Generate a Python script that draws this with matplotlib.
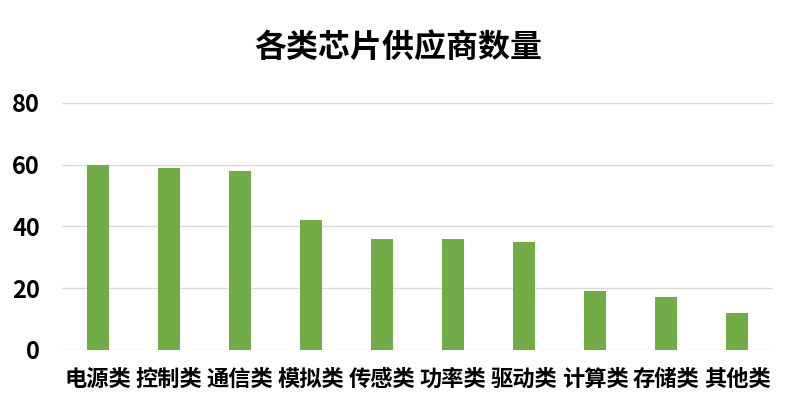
import matplotlib.pyplot as plt

plt.rcParams['font.family'] = ['Noto Sans CJK SC', 'DejaVu Sans']

# 数据
categories = ['电源类', '控制类', '通信类', '模拟类', '传感类', '功率类', '驱动类', '计算类', '存储类', '其他类']
counts = [60, 59, 58, 42, 36, 36, 35, 19, 17, 12]
yticks = [0, 20, 40, 60, 80]

fig = plt.figure(figsize=(8, 4.18), dpi=100)
ax = fig.add_axes([0.0775, 0.1627, 0.8885, 0.591])

ax.bar(range(len(categories)), counts, width=0.31, color='#70AD47', zorder=3)

ax.set_xlim(-0.5, len(categories) - 0.5)
ax.set_ylim(0, 80)
ax.set_yticks(yticks)
ax.set_yticklabels([str(v) for v in yticks], fontsize=17, fontweight='bold')
ax.set_xticks(range(len(categories)))
ax.set_xticklabels(categories, fontsize=16, fontweight='bold')
ax.tick_params(axis='both', length=0)
ax.tick_params(axis='y', pad=16)
ax.tick_params(axis='x', pad=13)

ax.grid(axis='y', color='#D9D9D9', linewidth=1, zorder=0)
for s in ax.spines.values():
    s.set_visible(False)

fig.text(0.4975, 0.885, '各类芯片供应商数量', ha='center', va='center',
         fontsize=23, fontweight='bold')

fig.savefig('out.png', dpi=100)
